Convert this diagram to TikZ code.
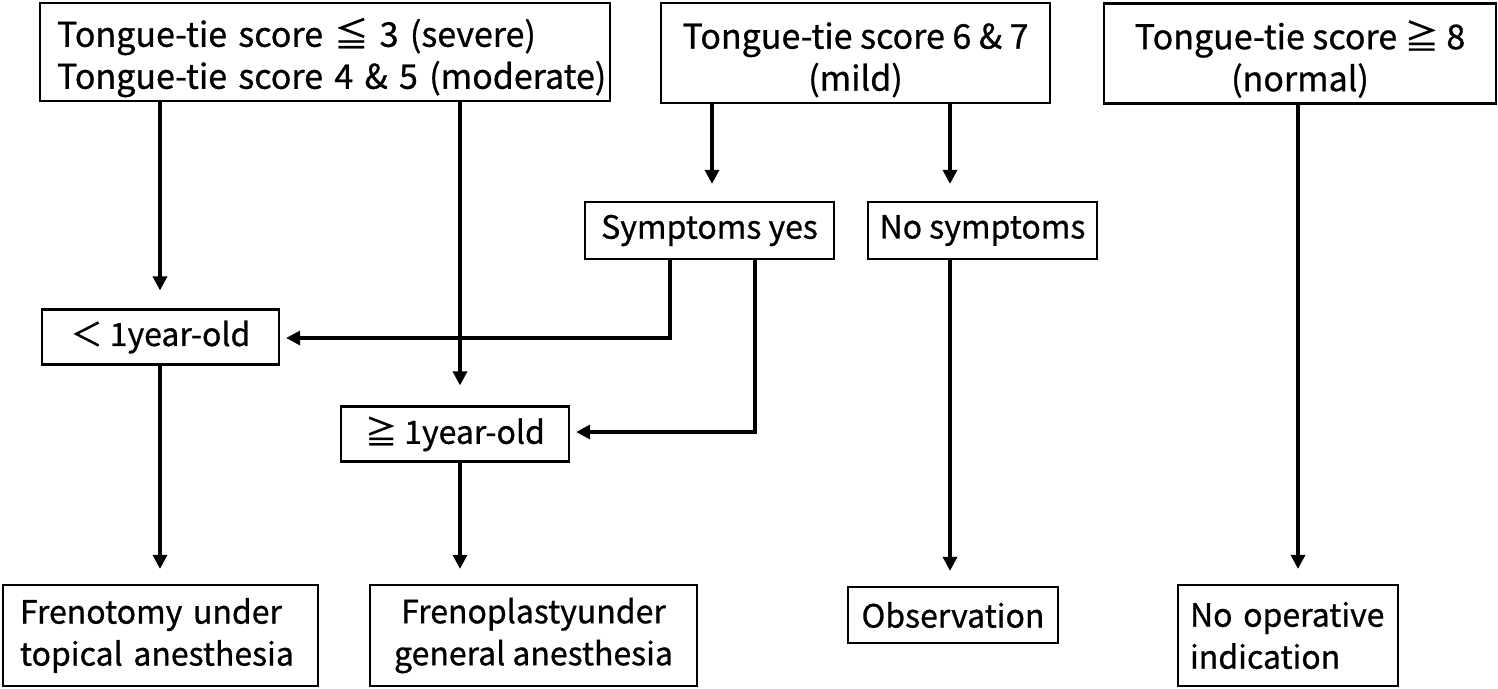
\documentclass[tikz,border=0pt]{standalone}
\usepackage{fontspec}
\setmainfont{Noto Sans CJK JP}[FakeBold=0.8]
\usetikzlibrary{arrows.meta}
\newcommand{\topstrut}{\rule{0pt}{40pt}}
\tikzset{
  box/.style={draw, line width=2.2pt, rectangle, inner ysep=0pt, font=\fontsize{32}{42}\selectfont},
  topfont/.style={font=\fontsize{34}{42}\selectfont},
  lbox/.style={box, align=left, inner xsep=17pt},
  cbox/.style={box, align=center, inner xsep=0pt},
  arr/.style={line width=3.2pt, -{Triangle[width=14pt,length=14pt]}},
}
\begin{document}
\begin{tikzpicture}[x=1pt,y=-1pt]
\useasboundingbox (0,0) rectangle (1498,688);
\node[lbox, topfont, text width=536pt, minimum height=98pt] (A) at (325,52) {\topstrut\mbox{Tongue-tie score ≦ 3 (severe)}\\\mbox{Tongue-tie score 4 \& 5 (moderate)}};
\node[cbox, topfont, minimum width=389pt, minimum height=100pt] (B) at (855.5,53) {\topstrut Tongue-tie score 6 \& 7\\(mild)};
\node[cbox, topfont, minimum width=392pt, minimum height=100pt] (C) at (1300,53.5) {\topstrut Tongue-tie score ≧ 8\\(normal)};
\node[cbox, minimum width=249pt, minimum height=57pt] (SY) at (709.5,230.5) {Symptoms yes};
\node[cbox, minimum width=229pt, minimum height=57pt] (NS) at (982.5,230.5) {No symptoms};
\node[cbox, minimum width=237pt, minimum height=55pt] (L1) at (160.5,337) {＜ 1year-old};
\node[cbox, minimum width=228pt, minimum height=55pt] (G1) at (455,434) {≧ 1year-old};
\node[lbox, text width=281pt, minimum height=101pt] (F1) at (160.5,635.5) {Frenotomy under\\topical anesthesia};
\node[cbox, minimum width=327pt, minimum height=101pt] (F2) at (533.5,635.5) {Frenoplastyunder\\general anesthesia};
\node[cbox, minimum width=210pt, minimum height=56pt] (OB) at (953,615) {Observation};
\node[lbox, inner xsep=12pt, text width=196pt, minimum height=101pt] (NO) at (1288,635.5) {\mbox{No operative}\\indication};
\coordinate (xa) at (160,0);
\coordinate (xb) at (460,0);
\coordinate (xc) at (712,0);
\coordinate (xd) at (950,0);
\coordinate (xe) at (670,0);
\coordinate (xf) at (755,0);
\coordinate (xg) at (1298,0);
\coordinate (ya) at (0,338);
\coordinate (yb) at (0,432);
\draw[arr, shorten >=18pt] (A.south -| xa) -- (L1.north -| xa);
\draw[arr, shorten >=20pt] (A.south -| xb) -- (G1.north -| xb);
\draw[arr, shorten >=17pt] (B.south -| xc) -- (SY.north -| xc);
\draw[arr, shorten >=17pt] (B.south -| xd) -- (NS.north -| xd);
\draw[arr, shorten >=6pt] (SY.south -| xe) |- (L1.east |- ya);
\draw[arr, shorten >=6pt] (SY.south -| xf) |- (G1.east |- yb);
\draw[arr, shorten >=15pt] (L1.south -| xa) -- (F1.north -| xa);
\draw[arr, shorten >=15pt] (G1.south -| xb) -- (F2.north -| xb);
\draw[arr, shorten >=15pt] (NS.south -| xd) -- (OB.north -| xd);
\draw[arr, shorten >=15pt] (C.south -| xg) -- (NO.north -| xg);
\end{tikzpicture}
\end{document}
